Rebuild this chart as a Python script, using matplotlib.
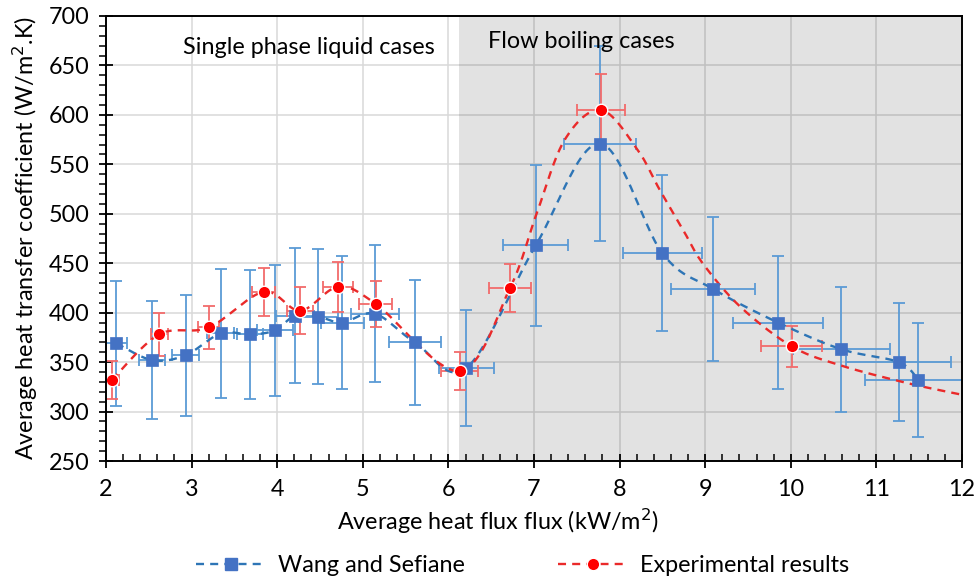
import numpy as np
import matplotlib
matplotlib.use("Agg")
import matplotlib.pyplot as plt
from matplotlib.lines import Line2D
from matplotlib.ticker import MultipleLocator

plt.rcParams['font.family'] = ['Lato', 'DejaVu Sans']

# Wang and Sefiane
wang_x = [2.12, 2.54, 2.93, 3.34, 3.68, 3.97, 4.21, 4.48, 4.76, 5.14, 5.61, 6.21,
          7.02, 7.77, 8.50, 9.09, 9.85, 10.59, 11.26, 11.49]
wang_y = [369, 352, 357, 379, 378, 382, 397, 396, 390, 399, 370, 344,
          468, 571, 460, 424, 390, 363, 350, 332]
wang_yerr = [63, 60, 61, 65, 65, 66, 68, 68, 67, 69, 63, 59,
             81, 99, 79, 73, 67, 63, 60, 58]
wang_xerr = [0.12, 0.15, 0.16, 0.16, 0.15, 0.21, 0.22, 0.23, 0.25, 0.28, 0.30, 0.32,
             0.38, 0.42, 0.46, 0.49, 0.53, 0.57, 0.61, 0.62]

# Experimental results
exp_x = [2.07, 2.62, 3.20, 3.84, 4.27, 4.71, 5.15, 6.13, 6.72, 7.78, 10.01]
exp_y = [332, 378, 385, 421, 402, 426, 409, 341, 425, 605, 366]
exp_yerr = [19, 22, 22, 24.5, 23.5, 25, 23.5, 19.5, 24.5, 36, 21]
exp_xerr = [0.08, 0.1, 0.12, 0.14, 0.15, 0.18, 0.19, 0.22, 0.245, 0.28, 0.36]

# dashed smoothed curve of the experimental series
exp_curve_x = [2.07, 2.62, 3.20, 3.84, 4.27, 4.71, 5.15, 6.13, 6.72, 7.03, 7.36,
               7.78, 8.20, 8.47, 8.74, 8.97, 9.41, 10.01, 10.57, 11.35, 12.0]
exp_curve_y = [332, 378, 385, 421, 402, 426, 409, 341, 425, 500, 575,
               605, 566, 524, 484, 450, 406, 366, 347, 329, 317]

x_ticks = [2, 3, 4, 5, 6, 7, 8, 9, 10, 11, 12]
y_ticks = [250, 300, 350, 400, 450, 500, 550, 600, 650, 700]


def smooth(xs, ys, n=30):
    p = np.column_stack([xs, ys]).astype(float)
    out = [p[0]]
    m = len(p)
    for i in range(m - 1):
        p0 = p[i - 1] if i > 0 else p[i]
        p1 = p[i]
        p2 = p[i + 1]
        p3 = p[i + 2] if i + 2 < m else p[i + 1]
        c1 = p1 + (p2 - p0) / 6.0
        c2 = p2 - (p3 - p1) / 6.0
        t = np.linspace(0, 1, n)[1:, None]
        seg = ((1 - t) ** 3) * p1 + 3 * ((1 - t) ** 2) * t * c1 + 3 * (1 - t) * t ** 2 * c2 + t ** 3 * p2
        out.extend(seg)
    out = np.array(out)
    return out[:, 0], out[:, 1]


blue_line = '#2E75B6'
blue_mark = '#4472C4'
blue_err = '#5B9BD5'
red_line = '#EA2A2A'
red_mark = '#FF0000'
red_err = '#F26B6B'

FS = 16.8

fig = plt.figure(figsize=(9.75, 5.79), dpi=100)
ax = fig.add_axes([106 / 975, 1 - 461 / 579, (962 - 106) / 975, (461 - 16) / 579])

ax.set_xlim(2, 12)
ax.set_ylim(250, 700)

# shaded flow boiling region
ax.axvspan(6.12, 12, color='black', alpha=0.115, lw=0, zorder=1)

ax.set_axisbelow(True)
ax.grid(True, which='major', color='#D9D9D9', lw=1.1)

# error bars
ax.errorbar(wang_x, wang_y, xerr=wang_xerr, yerr=wang_yerr, fmt='none',
            ecolor=blue_err, elinewidth=1.3, capsize=4.5, capthick=1.3, zorder=3)
ax.errorbar(exp_x, exp_y, xerr=exp_xerr, yerr=exp_yerr, fmt='none',
            ecolor=red_err, elinewidth=1.3, capsize=4.5, capthick=1.3, zorder=3)

dash = (0, (3.4, 2.6))
bx, by = smooth(wang_x, wang_y)
ax.plot(bx, by, color=blue_line, lw=1.7, ls=dash, zorder=4)
rx, ry = smooth(exp_curve_x, exp_curve_y)
ax.plot(rx, ry, color=red_line, lw=1.7, ls=dash, zorder=4)

ax.plot(wang_x, wang_y, ls='none', marker='s', ms=8.3, mfc=blue_mark, mec=blue_mark,
        mew=0.5, zorder=5)
ax.plot(exp_x, exp_y, ls='none', marker='o', ms=9, mfc=red_mark, mec='white',
        mew=1.0, zorder=6)

# ticks
ax.set_xticks(x_ticks)
ax.set_yticks(y_ticks)
ax.xaxis.set_minor_locator(MultipleLocator(0.2))
ax.yaxis.set_minor_locator(MultipleLocator(10))
ax.tick_params(axis='x', which='major', direction='inout', length=10, width=1.3,
               labelsize=FS, pad=8, colors='black')
ax.tick_params(axis='x', which='minor', direction='in', length=5, width=1.1)
ax.tick_params(axis='y', which='major', direction='inout', length=10, width=1.3,
               labelsize=FS, pad=7)
ax.tick_params(axis='y', which='minor', direction='out', length=5, width=1.1)
for s in ax.spines.values():
    s.set_color('black')
    s.set_linewidth(1.4)
    s.set_zorder(7)

ax.set_xlabel('Average heat flux flux (kW/m$^2$)', fontsize=FS, labelpad=1)
ax.xaxis.set_label_coords((498 - 106) / 856, -0.103)
ax.set_ylabel('Average heat transfer coefficient (W/m$^2$.K)', fontsize=FS, labelpad=6)

ax.text(2.90, 668.5, 'Single phase liquid cases', fontsize=FS, va='center', ha='left', zorder=8)
ax.text(6.46, 674.5, 'Flow boiling cases', fontsize=FS, va='center', ha='left', zorder=8)

handles = [
    Line2D([], [], color=blue_line, ls=dash, lw=1.7, marker='s', ms=8.3,
           mfc=blue_mark, mec=blue_mark),
    Line2D([], [], color=red_line, ls=dash, lw=1.7, marker='o', ms=9,
           mfc=red_mark, mec='white'),
]
fig.legend(handles, ['Wang and Sefiane', 'Experimental results'], loc='center',
           bbox_to_anchor=(0.536, 1 - 566 / 579), ncol=2, frameon=False,
           fontsize=FS, handlelength=3.0, columnspacing=4.0, handletextpad=0.5)

fig.savefig('out.png', dpi=100)
